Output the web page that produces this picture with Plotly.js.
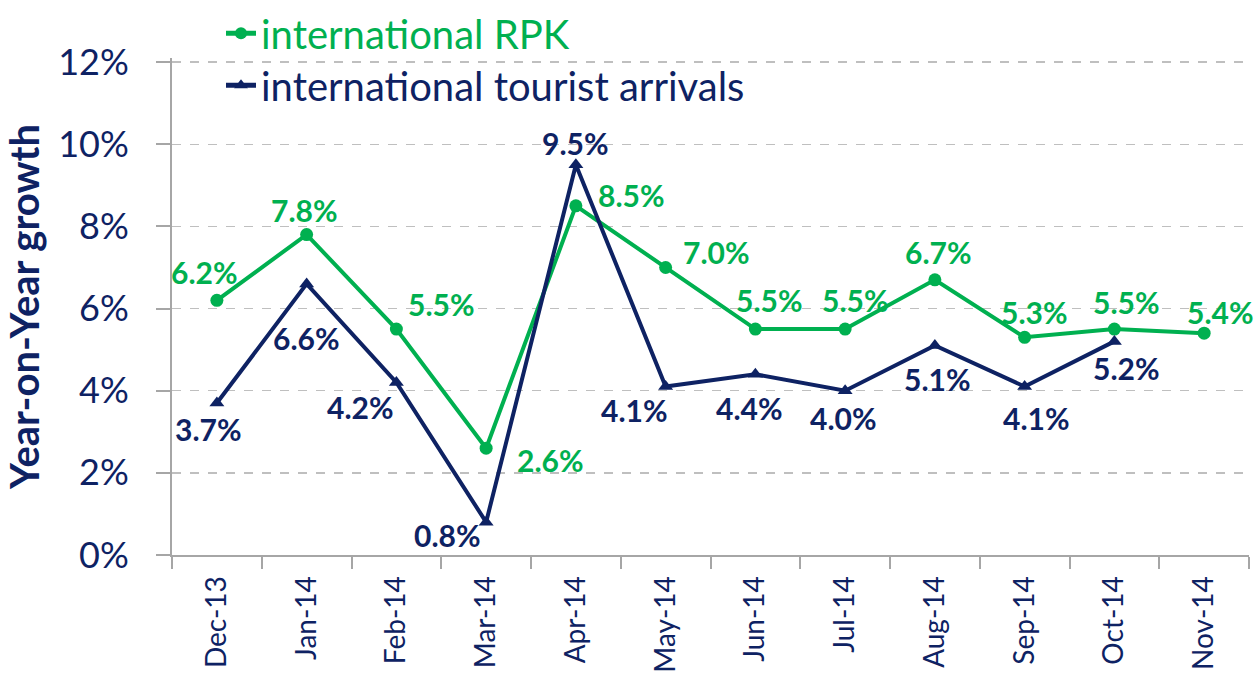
<!DOCTYPE html>
<html>
<head>
<meta charset="utf-8">
<script src="https://cdn.plot.ly/plotly-3.0.1.min.js"></script>
<style>
html,body{margin:0;padding:0;background:#fff;}
#chart{width:1257px;height:679px;}
</style>
</head>
<body>
<div id="chart"></div>
<script>
var months = ["Dec-13","Jan-14","Feb-14","Mar-14","Apr-14","May-14","Jun-14","Jul-14","Aug-14","Sep-14","Oct-14","Nov-14"];
var rpk = [6.2, 7.8, 5.5, 2.6, 8.5, 7.0, 5.5, 5.5, 6.7, 5.3, 5.5, 5.4];
var arrivals = [3.7, 6.6, 4.2, 0.8, 9.5, 4.1, 4.4, 4.0, 5.1, 4.1, 5.2, null];
var yTicks = [0, 2, 4, 6, 8, 10, 12];

var GREEN = "#00B050";
var NAVY = "#0E2263";
var FONT = "Lato, 'Open Sans', sans-serif";

// label offsets in pixels (style only): [dx, dy] with dy positive = downward
var rpkOff = [[-12,-28],[-2,-25],[45,-25],[64,12],[56,-11],[51,-15],[14,-29],[10,-29],[4,-28],[10,-25],[12,-27],[16,-21]];
var arrOff = [[-8,26],[0,54],[-36,25],[-39,13],[0,-22],[-31,23],[-6,34],[-2,27],[3,33],[12,31],[12,27],[0,0]];

function fmt(v){ return v.toFixed(1) + "%"; }

var traces = [
  {
    x: months, y: rpk, name: "international RPK", type: "scatter", mode: "lines+markers",
    line: {color: GREEN, width: 4},
    marker: {symbol: "circle", size: 13, color: GREEN},
    legend: "legend", cliponaxis: false
  },
  {
    x: months, y: arrivals, name: "international tourist arrivals", type: "scatter", mode: "lines+markers",
    line: {color: NAVY, width: 4},
    marker: {symbol: "triangle-up", size: 13, color: NAVY},
    legend: "legend2", cliponaxis: false
  }
];

var annotations = [];
function addLabels(vals, offs, color){
  vals.forEach(function(v, i){
    if (v === null) return;
    annotations.push({
      x: months[i], y: v, xref: "x", yref: "y",
      text: fmt(v), showarrow: false,
      xshift: offs[i][0], yshift: -offs[i][1],
      font: {family: FONT, size: 30, color: color, weight: "bold"}
    });
  });
}
addLabels(rpk, rpkOff, GREEN);
addLabels(arrivals, arrOff, NAVY);

var layout = {
  width: 1257, height: 679,
  margin: {l: 172, r: 8, t: 58, b: 124, autoexpand: false},
  paper_bgcolor: "#fff", plot_bgcolor: "#fff",
  font: {family: FONT, color: NAVY},
  showlegend: true,
  legend: {
    x: 0.0455, y: 1.05, xanchor: "left", yanchor: "middle",
    bgcolor: "rgba(0,0,0,0)", itemsizing: "constant",
    font: {family: FONT, size: 40, color: GREEN}
  },
  legend2: {
    x: 0.0455, y: 0.945, xanchor: "left", yanchor: "middle",
    bgcolor: "rgba(0,0,0,0)", itemsizing: "constant",
    font: {family: FONT, size: 40, color: NAVY}
  },
  annotations: annotations,
  xaxis: {
    type: "category", range: [-0.5, 11.5],
    tickson: "boundaries", ticks: "outside", ticklen: 12, tickcolor: "#A6A6A6", tickwidth: 2,
    showline: true, linecolor: "#A6A6A6", linewidth: 2,
    showgrid: false, tickangle: -90, ticklabelstandoff: 8,
    tickfont: {family: FONT, size: 28, color: NAVY},
    fixedrange: true
  },
  yaxis: {
    range: [0, 12.1], tickvals: yTicks, ticktext: yTicks.map(function(v){return v + "%";}),
    ticks: "outside", ticklen: 14, tickcolor: "#A6A6A6", tickwidth: 2,
    showline: true, linecolor: "#A6A6A6", linewidth: 2,
    showgrid: true, gridcolor: "#BFBFBF", griddash: "dash", gridwidth: 1.5,
    zeroline: false, ticklabelstandoff: 20,
    tickfont: {family: FONT, size: 36, color: NAVY},
    title: {text: "Year-on-Year growth", font: {family: FONT, size: 40, color: NAVY, weight: "bold"}, standoff: 8},
    fixedrange: true
  }
};

Plotly.newPlot("chart", traces, layout, {displayModeBar: false, staticPlot: true});
</script>
</body>
</html>
